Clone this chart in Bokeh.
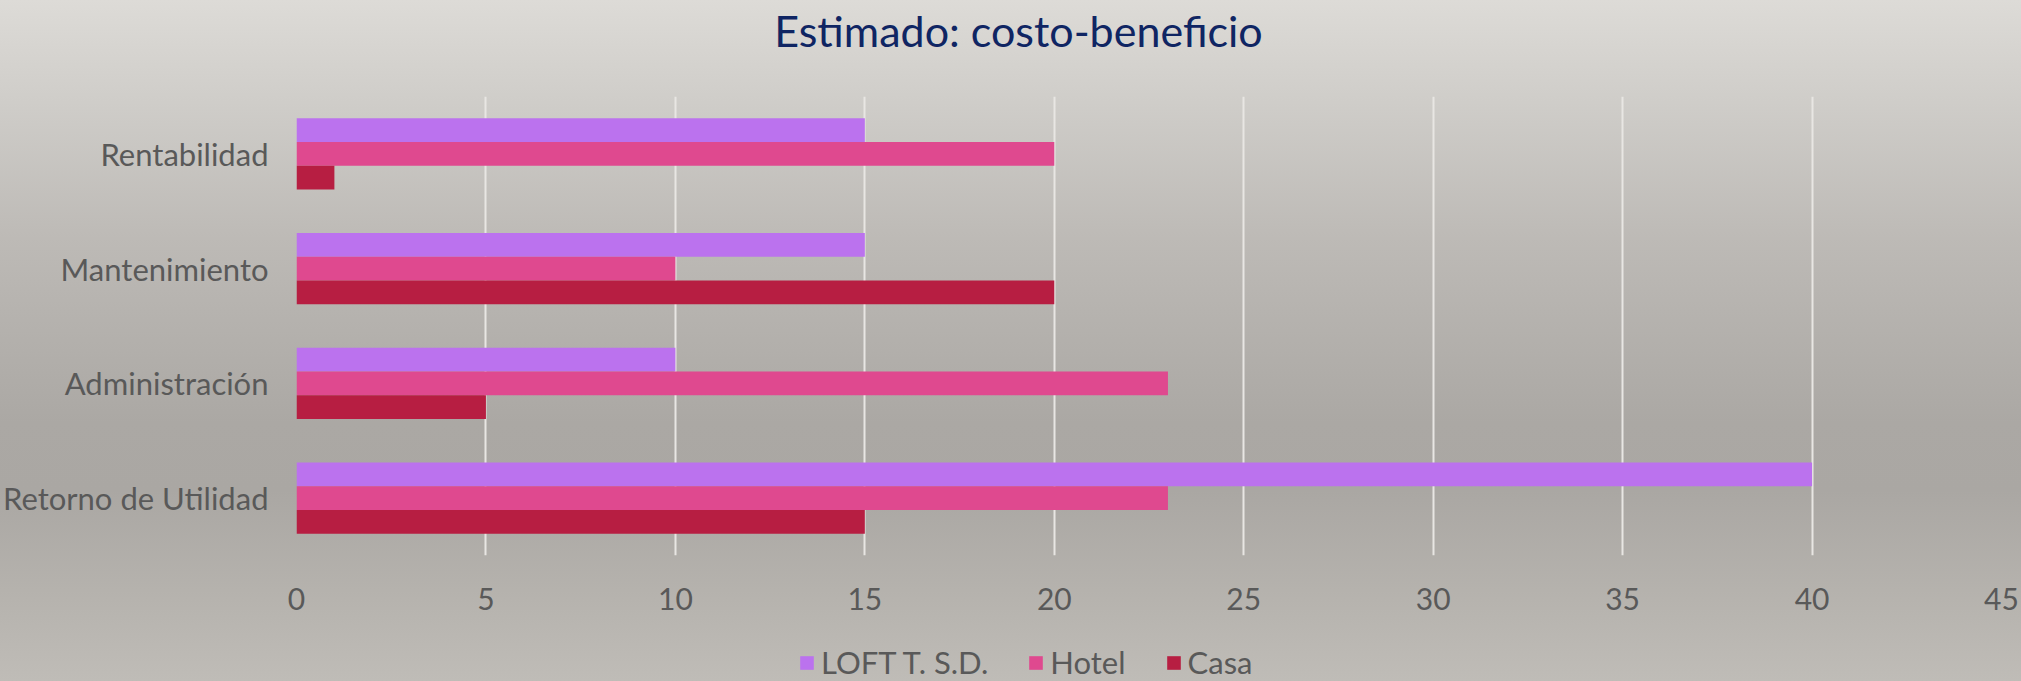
from bokeh.plotting import figure
from bokeh.layouts import column
from bokeh.models import (ColumnDataSource, FactorRange, Range1d, Legend, LegendItem,
                          FixedTicker, GlobalInlineStyleSheet, Label)
from bokeh.transform import dodge
from bokeh.embed import file_html
from bokeh.resources import INLINE

# ---- data ----
categories = ["Retorno de Utilidad", "Administración", "Mantenimiento", "Rentabilidad"]
loft = [40, 10, 15, 15]
hotel = [23, 23, 10, 20]
casa = [15, 5, 20, 1]
series_names = ["LOFT T. S.D.", "Hotel", "Casa"]
series_fields = ["loft", "hotel", "casa"]
x_ticks = [0, 5, 10, 15, 20, 25, 30, 35, 40, 45]
title_text = "Estimado: costo-beneficio"

colors = ["#BB72EE", "#DF498F", "#B71E42"]
FONT = "Lato"
TEXT_COLOR = "#595959"
W = 2021
LEFT = 296
RIGHT = 20


def bare(fig):
    fig.background_fill_alpha = 0
    fig.border_fill_alpha = 0
    fig.outline_line_color = None
    fig.xgrid.visible = False
    fig.ygrid.visible = False
    return fig


src = ColumnDataSource(dict(cat=categories, loft=loft, hotel=hotel, casa=casa))

# ---- title strip ----
pt = bare(figure(width=W, height=70, x_range=Range1d(0, 1), y_range=Range1d(0, 1),
                 x_axis_location=None, y_axis_location=None, output_backend="svg",
                 toolbar_location=None, min_border=0,
                 min_border_left=LEFT, min_border_right=RIGHT))
pt.add_layout(Label(x=722, y=40, x_units="screen", y_units="screen", text=title_text,
                    text_font=FONT, text_font_size="43px", text_color="#0F2563",
                    text_align="center", text_baseline="alphabetic"))

# ---- main chart ----
p = figure(y_range=FactorRange(*categories), x_range=Range1d(0, 45),
           width=W, height=555, output_backend="svg", toolbar_location=None,
           min_border_left=LEFT, min_border_right=RIGHT, min_border_top=26, min_border_bottom=70)
p.background_fill_alpha = 0
p.border_fill_alpha = 0
p.outline_line_color = None

bh = 0.2075
offsets = [bh, 0, -bh]
for fld, col, off in zip(series_fields, colors, offsets):
    p.hbar(y=dodge("cat", off, range=p.y_range), left=0, right=fld, height=bh,
           source=src, fill_color=col, line_color=None)

p.xgrid.ticker = FixedTicker(ticks=x_ticks)
p.xgrid.grid_line_color = "#E8E6E3"
p.xgrid.grid_line_width = 2
p.ygrid.grid_line_color = None

p.xaxis.ticker = FixedTicker(ticks=x_ticks)
for ax in (p.xaxis[0], p.yaxis[0]):
    ax.axis_line_color = None
    ax.major_tick_line_color = None
    ax.minor_tick_line_color = None
    ax.major_label_text_font = FONT
    ax.major_label_text_color = TEXT_COLOR
p.xaxis.major_label_text_font_size = "30px"
p.yaxis.major_label_text_font_size = "31px"
p.xaxis.major_label_standoff = 26
p.yaxis.major_label_standoff = 22

# ---- legend strip (zero-height proxy bars, only their legend swatches show) ----
pl = bare(figure(width=W, height=56, x_range=Range1d(-2, -1),
                 y_range=FactorRange(*categories),
                 x_axis_location=None, y_axis_location=None, output_backend="svg",
                 toolbar_location=None, min_border=0,
                 min_border_left=LEFT, min_border_right=RIGHT))
items = []
for name, fld, col in zip(series_names, series_fields, colors):
    rr = pl.hbar(y="cat", right=fld, left=0, height=0, source=src,
                 fill_color=col, line_color=None)
    items.append(LegendItem(label=name, renderers=[rr]))
legend = Legend(items=items, orientation="horizontal", location=(502, 0),
                label_text_font=FONT, label_text_font_size="31px",
                label_text_color=TEXT_COLOR, glyph_width=17, glyph_height=17,
                label_standoff=6, spacing=39, padding=0, margin=0,
                background_fill_alpha=0, border_line_color=None)
pl.add_layout(legend)

layout = column(pt, p, pl, spacing=0)
layout.stylesheets = [GlobalInlineStyleSheet(css="""
html { height: 100%;
  background: linear-gradient(to bottom, #DDDBD7 0%, #CFCDC9 15%, #BDBAB6 35%,
              #ABA8A4 62%, #AAA7A3 72%, #B6B3AE 88%, #BFBCB7 100%) no-repeat; }
body { background: transparent; margin: 0; }
""")]

open("out.html", "w").write(file_html(layout, INLINE))
